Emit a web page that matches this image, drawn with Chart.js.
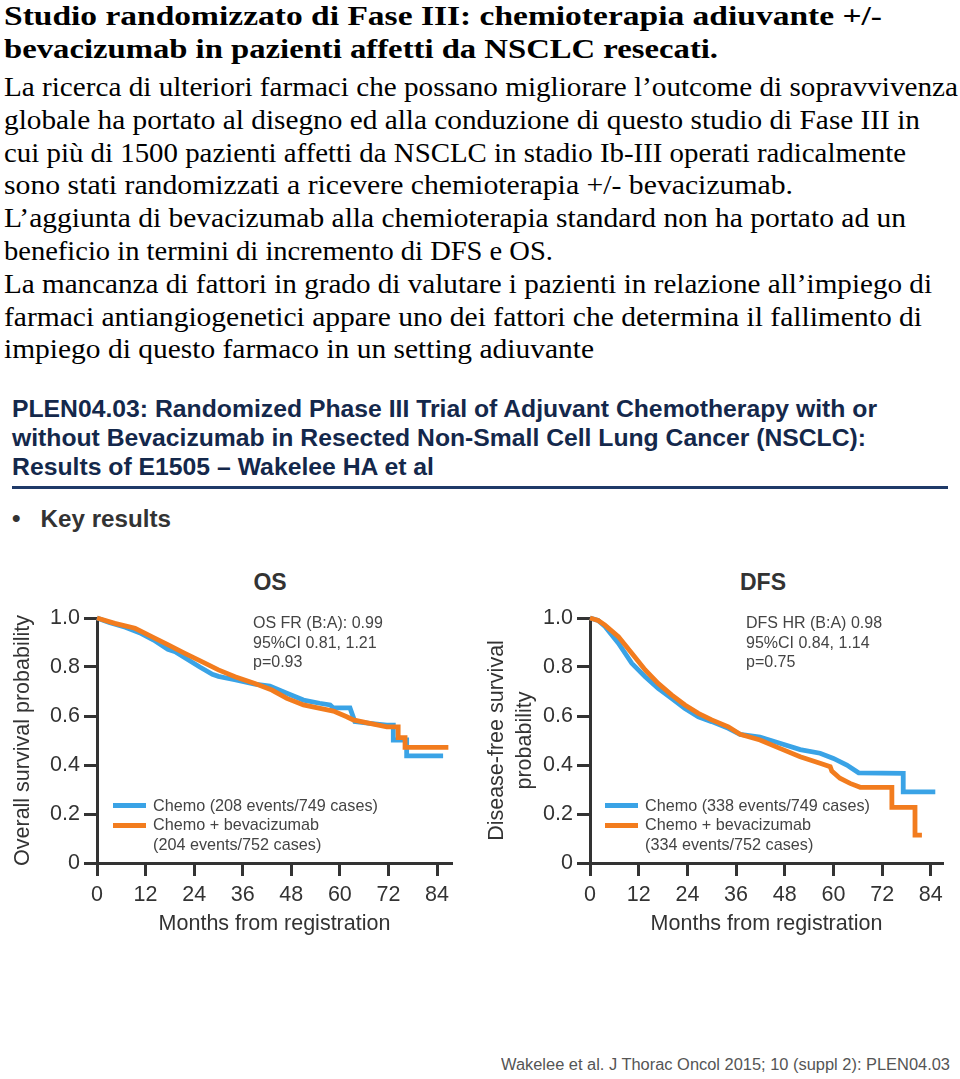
<!DOCTYPE html>
<html>
<head>
<meta charset="utf-8">
<script src="https://cdn.jsdelivr.net/npm/chart.js@4.4.1/dist/chart.umd.min.js"></script>
<style>
  body { margin: 0; background: #fff; width: 960px; height: 1079px; position: relative; overflow: hidden; }
  .abs { position: absolute; }
  .ln { white-space: nowrap; display: block; }
  .ln span { display: inline-block; transform-origin: 0 50%; }
  #head { left: 4px; top: 0px; font: bold 28px "Liberation Serif", serif; line-height: 32.5px; color: #000; }
  #body { left: 4px; top: 71px; font: 27px "Liberation Serif", serif; line-height: 32.8px; color: #000; }
  #slideTitle { left: 12px; top: 395px; font: bold 23px "Liberation Sans", Arial, sans-serif; line-height: 29px; color: #14284b; }
  #rule { left: 12px; top: 486px; width: 936px; height: 3px; background: #1f3a68; }
  #key { left: 12px; top: 506px; font: bold 23px "Liberation Sans", Arial, sans-serif; color: #333; }
  .ctitle { font: bold 23px "Liberation Sans", Arial, sans-serif; color: #333; transform: translateX(-50%); }
  .note { font: 16px "Liberation Sans", Arial, sans-serif; line-height: 19.5px; color: #444; white-space: nowrap; }
  .leg { font: 16.2px "Liberation Sans", Arial, sans-serif; line-height: 19.3px; color: #444; white-space: nowrap; }
  .leg i { display: inline-block; width: 33px; height: 5px; vertical-align: middle; margin-right: 7px; position: relative; top: -1px; }
  .leg .pad { padding-left: 40px; }
  canvas { position: absolute; }
  #foot { left: 501px; top: 1056px; font: 16px "Liberation Sans", Arial, sans-serif; color: #555; }
</style>
</head>
<body>
<div id="head" class="abs">
  <div class="ln"><span data-w="878">Studio randomizzato di Fase III: chemioterapia adiuvante +/-</span></div>
  <div class="ln"><span data-w="714">bevacizumab in pazienti affetti da NSCLC resecati.</span></div>
</div>
<div id="body" class="abs">
  <div class="ln"><span data-w="954">La ricerca di ulteriori farmaci che possano migliorare l’outcome di sopravvivenza</span></div>
  <div class="ln"><span data-w="916">globale ha portato al disegno ed alla conduzione di questo studio di Fase III in</span></div>
  <div class="ln"><span data-w="902">cui più di 1500 pazienti affetti da NSCLC in stadio Ib-III operati radicalmente</span></div>
  <div class="ln"><span data-w="789">sono stati randomizzati a ricevere chemioterapia +/- bevacizumab.</span></div>
  <div class="ln"><span data-w="902">L’aggiunta di bevacizumab alla chemioterapia standard non ha portato ad un</span></div>
  <div class="ln"><span data-w="549">beneficio in termini di incremento di DFS e OS.</span></div>
  <div class="ln"><span data-w="928">La mancanza di fattori in grado di valutare i pazienti in relazione all’impiego di</span></div>
  <div class="ln"><span data-w="918">farmaci antiangiogenetici appare uno dei fattori che determina il fallimento di</span></div>
  <div class="ln"><span data-w="590">impiego di questo farmaco in un setting adiuvante</span></div>
</div>

<div id="slideTitle" class="abs">
  <div class="ln"><span data-w="865">PLEN04.03: Randomized Phase III Trial of Adjuvant Chemotherapy with or</span></div>
  <div class="ln"><span data-w="854">without Bevacizumab in Resected Non-Small Cell Lung Cancer (NSCLC):</span></div>
  <div class="ln"><span data-w="422">Results of E1505 – Wakelee HA et al</span></div>
</div>
<div id="rule" class="abs"></div>
<div id="key" class="abs ln"><span data-w="159">•&nbsp;&nbsp; Key results</span></div>

<div class="abs ctitle" style="left:270px; top:569px;">OS</div>
<div class="abs ctitle" style="left:763px; top:569px;">DFS</div>

<canvas id="osChart" style="left:0px; top:560px;" width="480" height="400"></canvas>
<canvas id="dfsChart" style="left:480px; top:560px;" width="480" height="400"></canvas>

<div class="abs note" style="left:253px; top:613px;">OS FR (B:A): 0.99<br>95%CI 0.81, 1.21<br>p=0.93</div>
<div class="abs note" style="left:746px; top:613px;">DFS HR (B:A) 0.98<br>95%CI 0.84, 1.14<br>p=0.75</div>

<div class="abs leg" style="left:113px; top:796px;" id="osLeg"></div>
<div class="abs leg" style="left:605px; top:796px;" id="dfsLeg"></div>

<div id="foot" class="abs ln"><span data-w="449">Wakelee et al. J Thorac Oncol 2015; 10 (suppl 2): PLEN04.03</span></div>

<script>
// colori delle serie
const blue = "#3aa3e6";
const orange = "#f27c1e";

const xTicks = [0, 12, 24, 36, 48, 60, 72, 84];
const yTicks = [0, 0.2, 0.4, 0.6, 0.8, 1.0];

// OS - Chemo
const osChemoMonths = [0, 3, 7, 10.5, 14, 17.5, 19.3, 21.7, 25.4, 28.5, 30, 34, 39, 42.7, 46.9, 51, 55, 57.6, 58.4, 62.5, 63.7, 67.4, 71.6, 73.2, 73.2, 76.5, 76.5, 85.5];
const osChemo = [1.0, 0.982, 0.962, 0.94, 0.91, 0.872, 0.862, 0.838, 0.8, 0.77, 0.762, 0.748, 0.73, 0.722, 0.693, 0.665, 0.652, 0.645, 0.633, 0.633, 0.577, 0.57, 0.563, 0.563, 0.502, 0.502, 0.437, 0.437];
// OS - Chemo + bevacizumab
const osBevMonths = [0, 4.4, 9.4, 13.5, 17.6, 21.7, 25.9, 30, 34.1, 39, 43.2, 46.9, 51, 55.1, 58.4, 61.7, 63.3, 67.4, 71.6, 74.4, 74.4, 76.1, 76.1, 86.8];
const osBev = [1.0, 0.978, 0.958, 0.924, 0.89, 0.856, 0.822, 0.788, 0.76, 0.733, 0.706, 0.672, 0.645, 0.631, 0.62, 0.597, 0.584, 0.57, 0.556, 0.556, 0.512, 0.512, 0.472, 0.472];

// DFS - Chemo
const dfsChemoMonths = [0, 2, 3.7, 7, 10.3, 13.6, 16.8, 20.1, 23.4, 26.7, 30, 34.1, 37, 41.9, 46.8, 51.8, 56.7, 60, 63.3, 66.2, 77.2, 77.2, 85.1];
const dfsChemo = [1.0, 0.99, 0.965, 0.897, 0.815, 0.76, 0.713, 0.672, 0.631, 0.597, 0.577, 0.55, 0.525, 0.514, 0.489, 0.463, 0.448, 0.427, 0.4, 0.368, 0.366, 0.29, 0.29];
// DFS - Chemo + bevacizumab
const dfsBevMonths = [0, 2, 3.7, 7, 10.3, 13.6, 16.8, 20.1, 23.4, 26.7, 30, 34.1, 37, 41.9, 46.8, 51.8, 56.7, 59.2, 59.6, 61.6, 64.1, 66.6, 74.4, 74.4, 80.1, 80.1, 81.8];
const dfsBev = [1.0, 0.99, 0.971, 0.924, 0.856, 0.788, 0.733, 0.686, 0.645, 0.611, 0.584, 0.556, 0.525, 0.502, 0.468, 0.434, 0.407, 0.393, 0.375, 0.346, 0.325, 0.309, 0.309, 0.227, 0.227, 0.114, 0.114];

const osLegend = ["Chemo (208 events/749 cases)", "Chemo + bevacizumab", "(204 events/752 cases)"];
const dfsLegend = ["Chemo (338 events/749 cases)", "Chemo + bevacizumab", "(334 events/752 cases)"];

// adatta la larghezza delle righe di testo
document.querySelectorAll("span[data-w]").forEach((s) => {
  const w = s.getBoundingClientRect().width;
  const target = parseFloat(s.dataset.w);
  s.style.transform = "scaleX(" + (target / w).toFixed(4) + ")";
});

function fillLegend(id, labels) {
  const el = document.getElementById(id);
  el.innerHTML =
    `<div><i style="background:${blue}"></i>${labels[0]}</div>` +
    `<div><i style="background:${orange}"></i>${labels[1]}</div>` +
    `<div class="pad">${labels[2]}</div>`;
}
fillLegend("osLeg", osLegend);
fillLegend("dfsLeg", dfsLegend);

function pts(xs, ys) {
  return xs.map((x, i) => ({ x, y: ys[i] }));
}

const axisColor = "#333";
const tickFont = { family: "'Liberation Sans', Arial, sans-serif", size: 21.5 };
const titleFont = { family: "'Liberation Sans', Arial, sans-serif", size: 21.5 };

function makeChart(canvasId, chemo, bev, yTitle, yTitleFont, yTitlePad, yWidth, xMax, rightPad) {
  const ctx = document.getElementById(canvasId).getContext("2d");
  return new Chart(ctx, {
    type: "line",
    data: {
      datasets: [
        { data: bev, borderColor: orange, borderWidth: 4.8, pointRadius: 0, order: 1, clip: 6, tension: 0 },
        { data: chemo, borderColor: blue, borderWidth: 4.8, pointRadius: 0, order: 2, clip: 6, tension: 0 },
      ],
    },
    options: {
      responsive: false,
      animation: false,
      events: [],
      layout: { padding: { left: 0, right: rightPad, top: 58, bottom: 17 } },
      plugins: { legend: { display: false }, tooltip: { enabled: false } },
      scales: {
        x: {
          type: "linear",
          min: 0,
          max: xMax,
          afterBuildTicks: (axis) => { axis.ticks = xTicks.map((v) => ({ value: v })); },
          afterFit: (axis) => { axis.height = 80; },
          border: { display: true, color: axisColor, width: 3 },
          grid: { drawOnChartArea: false, drawTicks: true, tickLength: 13, tickWidth: 3, tickColor: axisColor },
          ticks: { font: tickFont, color: axisColor, padding: 6, maxRotation: 0, autoSkip: false },
          title: { display: true, text: "Months from registration", font: titleFont, color: axisColor, padding: { top: 0, bottom: 6 } },
        },
        y: {
          min: 0,
          max: 1,
          afterBuildTicks: (axis) => { axis.ticks = yTicks.map((v) => ({ value: v })); },
          afterFit: (axis) => { axis.width = yWidth; },
          border: { display: true, color: axisColor, width: 3 },
          grid: { drawOnChartArea: false, drawTicks: true, tickLength: 13, tickWidth: 3, tickColor: axisColor },
          ticks: {
            font: tickFont, color: axisColor, padding: 4,
            callback: (v) => (v === 0 ? "0" : v.toFixed(1)),
          },
          title: { display: true, text: yTitle, font: yTitleFont, color: axisColor, padding: { top: yTitlePad, bottom: 0 } },
        },
      },
    },
  });
}

makeChart("osChart", pts(osChemoMonths, osChemo), pts(osBevMonths, osBev),
  "Overall survival probability", titleFont, 10, 97, 87.7, 28);
makeChart("dfsChart", pts(dfsChemoMonths, dfsChemo), pts(dfsBevMonths, dfsBev),
  ["Disease-free survival", "probability"], { family: titleFont.family, size: 21.5, lineHeight: 1.3 }, 3, 110, 87, 17);
</script>
</body>
</html>
